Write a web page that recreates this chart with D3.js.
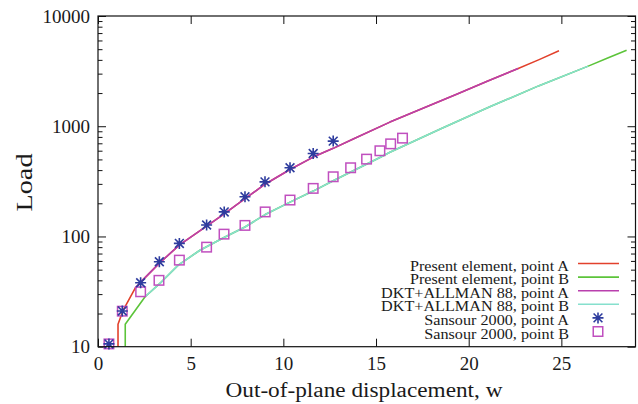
<!DOCTYPE html>
<html>
<head>
<meta charset="utf-8">
<script src="https://cdn.jsdelivr.net/npm/d3@7/dist/d3.min.js"></script>
<style>
  html, body { margin: 0; padding: 0; background: #fff; }
  svg { display: block; }
  text { font-family: "Liberation Serif", "Times New Roman", serif; fill: #1a1a1a; }
</style>
</head>
<body>
<svg id="chart" width="638" height="404"></svg>
<script>
// Load vs out-of-plane displacement, two points of the plate, three sources.

// Present element, point A: [w, load]
const presentA = [[1.08,10],[1.08,16],[1.36,21.5],[2.0,33.8],[2.3,38.5],[3.3,57],[4.4,84],
  [5.86,124],[6.81,160],[7.93,220],[9.01,298],[10.36,405],[11.61,525],[12.69,630],[13.77,765],
  [15.75,1090],[17.5,1450],[19.35,1950],[21,2560],[22.67,3340],[23.8,4020],[24.87,4830]];

// Present element, point B
const presentB = [[1.47,10],[1.47,16],[2.54,28.4],[3.43,38.8],[4.33,55],[5.5,75],[6.8,98],
  [7.93,122],[9.02,158],[10.36,205],[11.61,258],[12.69,320],[15.21,521],[15.75,580],[18.5,950],
  [21.14,1500],[23.8,2335],[26.45,3510],[27.5,4150],[28.52,4900]];

// DKT+ALLMAN 88, point A
const dktA = [[2.0,33.8],[2.3,38.5],[3.3,57],[4.4,84],[5.86,124],[6.81,160],[7.93,220],
  [9.01,298],[10.36,405],[11.61,525],[12.69,630],[13.77,765],[15.75,1090],[17.5,1450],
  [19.35,1950],[21,2560],[22.67,3340]];

// DKT+ALLMAN 88, point B
const dktB = [[2.54,28.4],[3.43,38.8],[4.33,55],[5.5,75],[6.8,98],[7.93,122],[9.02,158],
  [10.36,205],[11.61,258],[12.69,320],[15.21,521],[15.75,580],[18.5,950],[21.14,1500],
  [23.8,2335],[26.45,3510]];

// Sansour 2000 reference points
const sansourAw = [0.59,1.31,2.30,3.31,4.39,5.86,6.81,7.93,9.01,10.36,11.61,12.69];
const sansourAload = [10.6,21.1,38,59,86.5,127,167,229,313,420,566,733];
const sansourBw = [0.59,1.31,2.30,3.29,4.39,5.86,6.80,7.93,9.02,10.36,11.61,12.69,13.63,14.49,15.21,15.79,16.43];
const sansourBload = [10.6,21,31.5,40,61,80,105,126,167,214,273,348,420,503,599,692,780];

// Axis ticks
const xTicks = [0, 5, 10, 15, 20, 25];
const yMajor = [10, 100, 1000, 10000];
const yMinor = [20,30,40,50,60,70,80,90,200,300,400,500,600,700,800,900,2000,3000,4000,5000,6000,7000,8000,9000];

const legendLabels = [
  "Present element, point A",
  "Present element, point B",
  "DKT+ALLMAN 88, point A",
  "DKT+ALLMAN 88, point B",
  "Sansour 2000, point A",
  "Sansour 2000, point B"
];

const colors = {
  red: "#e2412c",
  green: "#5cc43a",
  purple: "#b940ad",
  cyan: "#86e0cd",
  star: "#2e3c9e",
  square: "#c04fbf"
};

const L = 98, R = 635.5, T = 16, B = 346.7;
const svg = d3.select("#chart");

const x = d3.scaleLinear().domain([0, 29]).range([L, R]);
const y = d3.scaleLog().domain([10, 10000]).range([B, T]);

// Axes with inward ticks
function styleAxis(g) {
  g.select(".domain").remove();
  g.selectAll("line").attr("stroke", "#111").attr("stroke-width", 1);
  g.selectAll("text").style("font-size", "19px").attr("fill", "#1a1a1a")
    .style("font-family", '"Liberation Serif", serif');
}

svg.append("g").attr("transform", `translate(0,${B})`)
  .call(d3.axisBottom(x).tickValues(xTicks).tickSizeInner(-8).tickSizeOuter(0).tickPadding(10).tickFormat(d3.format("d")))
  .call(styleAxis);
svg.append("g").attr("transform", `translate(0,${T})`)
  .call(d3.axisTop(x).tickValues(xTicks).tickSizeInner(-8).tickSizeOuter(0).tickFormat(""))
  .call(styleAxis);
svg.append("g").attr("transform", `translate(${L},0)`)
  .call(d3.axisLeft(y).tickValues(yMajor).tickSizeInner(-8).tickSizeOuter(0).tickPadding(8).tickFormat(d3.format("d")))
  .call(styleAxis);
svg.append("g").attr("transform", `translate(${L},0)`)
  .call(d3.axisLeft(y).tickValues(yMinor).tickSizeInner(-4.5).tickSizeOuter(0).tickFormat(""))
  .call(styleAxis);
svg.append("g").attr("transform", `translate(${R},0)`)
  .call(d3.axisRight(y).tickValues(yMajor).tickSizeInner(-8).tickSizeOuter(0).tickFormat(""))
  .call(styleAxis);
svg.append("g").attr("transform", `translate(${R},0)`)
  .call(d3.axisRight(y).tickValues(yMinor).tickSizeInner(-4.5).tickSizeOuter(0).tickFormat(""))
  .call(styleAxis);

// Curves
svg.append("defs").append("clipPath").attr("id", "plot-clip")
  .append("rect").attr("x", L).attr("y", T).attr("width", R - L).attr("height", B - T);

const line = d3.line().x(d => x(d[0])).y(d => y(d[1]));
const curves = svg.append("g").attr("clip-path", "url(#plot-clip)");
[[presentA, colors.red], [presentB, colors.green], [dktA, colors.purple], [dktB, colors.cyan]]
  .forEach(([data, c]) => {
    curves.append("path").datum(data).attr("d", line)
      .attr("fill", "none").attr("stroke", c).attr("stroke-width", 1.6)
      .attr("stroke-linejoin", "round");
  });

// Markers
const sq = 9.5;
function drawSquare(g, cx, cy) {
  g.append("rect").attr("x", cx - sq / 2).attr("y", cy - sq / 2)
    .attr("width", sq).attr("height", sq)
    .attr("fill", "none").attr("stroke", colors.square).attr("stroke-width", 1.5);
}
function drawStar(g, cx, cy) {
  const r = 5.5, q = r * 0.8;
  const d = `M${cx - r},${cy}H${cx + r}M${cx},${cy - r}V${cy + r}` +
    `M${cx - q},${cy - q}L${cx + q},${cy + q}` +
    `M${cx - q},${cy + q}L${cx + q},${cy - q}`;
  g.append("path").attr("d", d).attr("stroke", colors.star).attr("stroke-width", 1.6).attr("fill", "none");
}
const marks = svg.append("g");
sansourBw.forEach((w, i) => drawSquare(marks, x(w), y(sansourBload[i])));
sansourAw.forEach((w, i) => drawStar(marks, x(w), y(sansourAload[i])));

// Frame
svg.append("rect").attr("x", L).attr("y", T).attr("width", R - L).attr("height", B - T)
  .attr("fill", "none").attr("stroke", "#111").attr("stroke-width", 1.2);

// Legend
const legend = svg.append("g");
const rowY0 = 263.5, rowStep = 13.6;
const kinds = ["red", "green", "purple", "cyan", "star", "square"];
legendLabels.forEach((lab, i) => {
  const cy = rowY0 + i * rowStep;
  const t = legend.append("text").attr("x", 569).attr("y", cy + 7)
    .attr("text-anchor", "end").style("font-size", "14.2px").text(lab);
  const w = t.node().getComputedTextLength();
  t.attr("textLength", w * 1.14).attr("lengthAdjust", "spacingAndGlyphs");
  const k = kinds[i];
  if (k === "star") drawStar(legend, 598, cy);
  else if (k === "square") drawSquare(legend, 598, cy);
  else legend.append("line").attr("x1", 578).attr("x2", 619).attr("y1", cy).attr("y2", cy)
    .attr("stroke", colors[k]).attr("stroke-width", 1.6);
});

// Axis titles
svg.append("text").attr("x", 364).attr("y", 397).attr("text-anchor", "middle")
  .style("font-size", "20px").attr("textLength", 277).attr("lengthAdjust", "spacingAndGlyphs")
  .text("Out-of-plane displacement, w");
svg.append("text").attr("transform", "translate(31.5,182.5) rotate(-90)").attr("text-anchor", "middle")
  .style("font-size", "23px").attr("textLength", 58).attr("lengthAdjust", "spacingAndGlyphs")
  .text("Load");
</script>
</body>
</html>
